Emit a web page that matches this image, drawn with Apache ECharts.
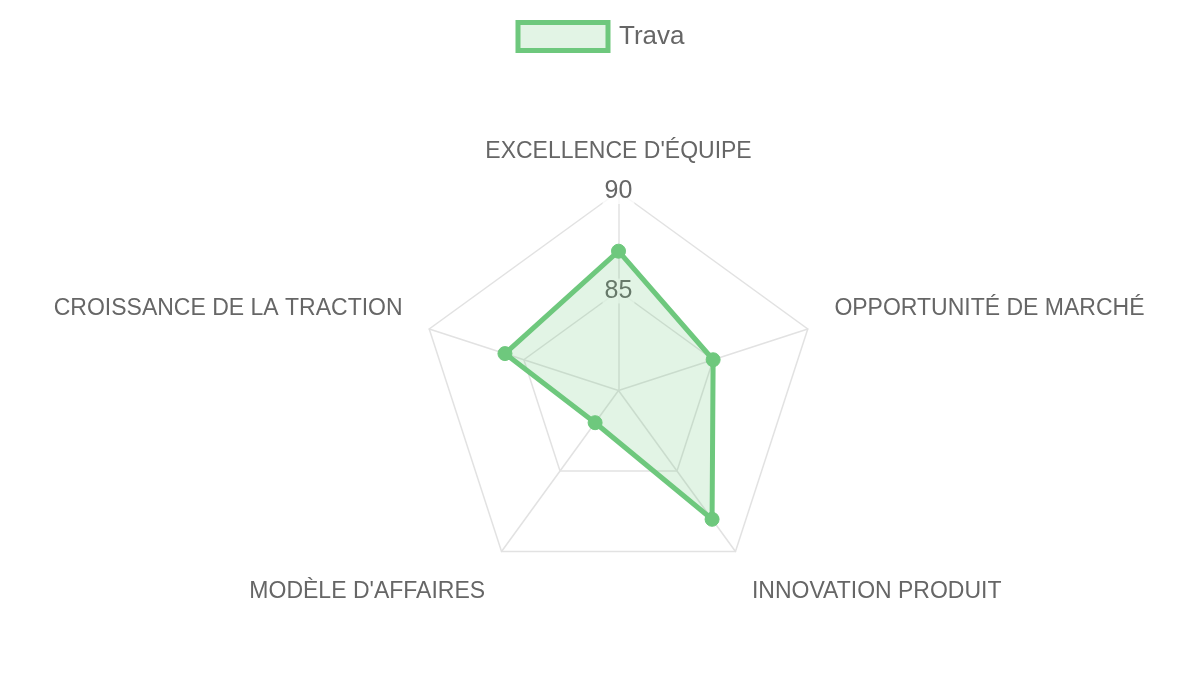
<!DOCTYPE html>
<html>
<head>
<meta charset="utf-8">
<script src="https://cdn.jsdelivr.net/npm/echarts@6/dist/echarts.min.js"></script>
<style>
html,body{margin:0;padding:0;background:#fff;}
#chart{width:1200px;height:675px;}
</style>
</head>
<body>
<div id="chart"></div>
<script>
const categories = ["EXCELLENCE D'ÉQUIPE", "OPPORTUNITÉ DE MARCHÉ", "INNOVATION PRODUIT", "MODÈLE D'AFFAIRES", "CROISSANCE DE LA TRACTION"];
const seriesName = "Trava";
const values = [87, 85, 88, 82, 86];
const scaleMin = 80;
const scaleMax = 90;

const green = 'rgb(110,200,125)';
const font = '"Liberation Sans", Arial, sans-serif';

// ECharts lays radar indicators counter-clockwise; reorder so they run clockwise.
const order = [0, 4, 3, 2, 1];
// rich-text style used for each original category's label
const nameStyles = ['top', 'side', 'bottom', 'bottom', 'side'];

const chart = echarts.init(document.getElementById('chart'));
chart.setOption({
  backgroundColor: '#ffffff',
  animation: false,
  legend: {
    top: 15,
    left: 'center',
    itemWidth: 90,
    itemHeight: 28,
    icon: 'rect',
    data: [seriesName],
    textStyle: { fontFamily: font, fontSize: 26, color: '#666', padding: [0, 0, 0, 6] },
    itemStyle: { color: 'rgba(110,200,125,0.2)', borderColor: green, borderWidth: 5 }
  },
  radar: {
    center: [618.5, 390.5],
    radius: 199,
    startAngle: 90,
    shape: 'polygon',
    splitNumber: 2,
    nameGap: 28,
    axisName: {
      fontFamily: font, fontSize: 23, color: '#666',
      formatter: function (name) {
        const k = categories.indexOf(name);
        return '{' + nameStyles[k] + '|' + name + '}';
      },
      rich: {
        top: { fontFamily: font, fontSize: 23, color: '#666' },
        side: { fontFamily: font, fontSize: 23, color: '#666', padding: [0, 0, 23, 0] },
        bottom: { fontFamily: font, fontSize: 23, color: '#666', padding: [36, 0, 0, 0] }
      }
    },
    splitArea: { show: false },
    splitLine: { lineStyle: { color: '#e2e2e2', width: 1.5 } },
    axisLine: { lineStyle: { color: '#e2e2e2', width: 1.5 } },
    axisTick: { show: false },
    axisLabel: { show: false },
    indicator: order.map((k) => {
      const ind = { name: categories[k], min: scaleMin, max: scaleMax };
      if (k === 0) {
        ind.axisLabel = {
          show: true, showMinLabel: false, margin: 0,
          align: 'center', verticalAlign: 'middle',
          fontFamily: font, fontSize: 25, color: '#666',
          backgroundColor: 'rgba(255,255,255,0.75)', padding: [0, 2]
        };
      }
      return ind;
    })
  },
  series: [{
    type: 'radar',
    name: seriesName,
    symbol: 'circle',
    symbolSize: 14,
    lineStyle: { color: green, width: 5 },
    itemStyle: { color: green, borderColor: green },
    areaStyle: { color: 'rgba(110,200,125,0.2)', opacity: 1 },
    data: [{ name: seriesName, value: order.map((k) => values[k]) }]
  }]
});
</script>
</body>
</html>
